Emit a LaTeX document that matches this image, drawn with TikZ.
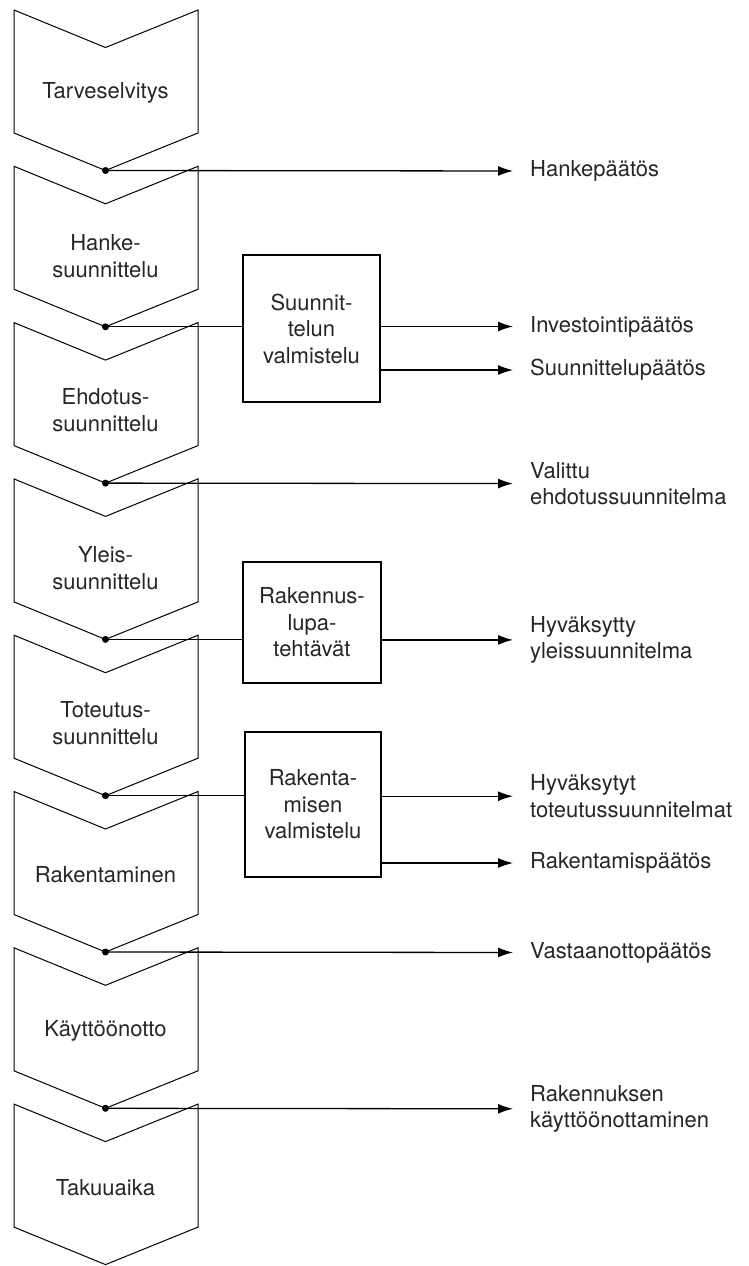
\documentclass[tikz,border=0pt]{standalone}
\usepackage{fontspec}
\setmainfont{TeX Gyre Heros}
\usetikzlibrary{arrows.meta}
\newcommand\chevronshape[2]{%
  \draw[chev] (14,#1) -- (105.5,#1+37.5) -- (198,#1) -- (198,#1+123)
    -- (105.5,#1+160.5) -- (14,#1+123) -- cycle;
  \coordinate (#2) at (105.5,#1+160.5);}
\begin{document}
\begin{tikzpicture}[x=1pt,y=-1pt,
  chev/.style={draw=black,line width=1pt,line join=miter},
  stage/.style={font=\fontsize{22}{26.5}\selectfont,text=black!85,align=center,inner sep=0pt},
  taskbox/.style={draw=black,line width=1.4pt,font=\fontsize{22}{26.5}\selectfont,text=black!85,align=center,inner sep=0pt},
  result/.style={anchor=west,align=left,font=\fontsize{22}{26.5}\selectfont,text=black!85,inner sep=0pt},
  link/.style={line width=1.3pt},
  flow/.style={line width=1.3pt,-{Latex[length=15pt,width=10pt]},shorten >=17pt},
  dot/.style={circle,fill=black,inner sep=0pt,minimum size=7pt}
]
\useasboundingbox (0,0) rectangle (749,1266);

% chevrons
\chevronshape{10}{p1}
\chevronshape{166.3}{p2}
\chevronshape{322.6}{p3}
\chevronshape{478.9}{p4}
\chevronshape{635.2}{p5}
\chevronshape{791.5}{p6}
\chevronshape{947.8}{p7}
\chevronshape{1104.1}{p8}

% stage labels
\node[stage] (s1) at (105.5,93) {Tarveselvitys};
\node[stage] (s2) at (105.5,256) {Hanke-\\suunnittelu};
\node[stage] (s3) at (105.5,410) {Ehdotus-\\suunnittelu};
\node[stage] (s4) at (105.5,568) {Yleis-\\suunnittelu};
\node[stage] (s5) at (105.5,723) {Toteutus-\\suunnittelu};
\node[stage] (s6) at (105.5,875) {Rakentaminen};
\node[stage] (s7) at (105.5,1031) {Käyttöönotto};
\node[stage] (s8) at (105.5,1188) {Takuuaika};

% dots
\node[dot] (d1) at (p1) {};
\node[dot] (d2) at (p2) {};
\node[dot] (d3) at (p3) {};
\node[dot] (d4) at (p4) {};
\node[dot] (d5) at (p5) {};
\node[dot] (d6) at (p6) {};
\node[dot] (d7) at (p7) {};

% task boxes
\node[taskbox,minimum width=137pt,minimum height=147pt] (b1) at (311.5,328.5) {Suunnit-\\telun\\valmistelu};
\node[taskbox,minimum width=138pt,minimum height=121pt] (b2) at (312,622.5) {Rakennus-\\lupa-\\tehtävät};
\node[taskbox,minimum width=136pt,minimum height=145pt] (b3) at (313,804.5) {Rakenta-\\misen\\valmistelu};

% results
\node[result] (r1) at (530,171) {Hankepäätös};
\node[result] (r2) at (530,326.5) {Investointipäätös};
\node[result] (r3) at (530,370) {Suunnittelupäätös};
\node[result] (r4) at (530,483.6) {Valittu\\ehdotussuunnitelma};
\node[result] (r5) at (530,639.9) {Hyväksytty\\yleissuunnitelma};
\node[result] (r6) at (530,796.2) {Hyväksytyt\\toteutussuunnitelmat};
\node[result] (r7) at (530,863) {Rakentamispäätös};
\node[result] (r8) at (530,952.5) {Vastaanottopäätös};
\node[result] (r9) at (530,1108.8) {Rakennuksen\\käyttöönottaminen};

% connectors
\draw[flow] (d1.center) -- (r1.west);
\draw[link] (d2.center) -- (d2.center -| b1.west);
\draw[flow] (r2.west -| b1.east) -- (r2.west);
\draw[flow] (r3.west -| b1.east) -- (r3.west);
\draw[flow] (d3.center) -- (r4.west);
\draw[link] (d4.center) -- (d4.center -| b2.west);
\draw[flow] (r5.west -| b2.east) -- (r5.west);
\draw[link] (d5.center) -- (d5.center -| b3.west);
\draw[flow] (r6.west -| b3.east) -- (r6.west);
\draw[flow] (r7.west -| b3.east) -- (r7.west);
\draw[flow] (d6.center) -- (r8.west);
\draw[flow] (d7.center) -- (r9.west);
\end{tikzpicture}
\end{document}
